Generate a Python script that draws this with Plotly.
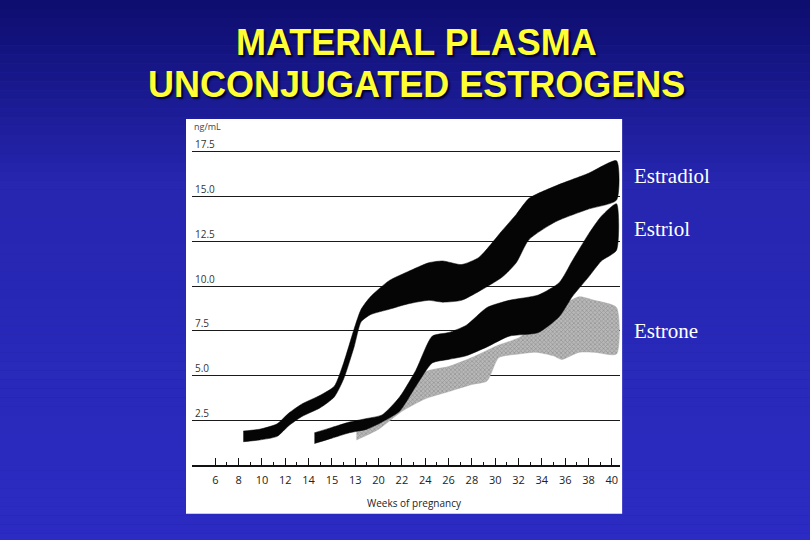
import plotly.graph_objects as go

# values (ng/mL vs weeks of pregnancy)
estradiol_weeks = [8.4, 9.8, 11.3, 12.3, 13.4, 15.0, 16.2, 17.0, 17.9, 18.5, 19.3, 20.9,
                   22.5, 24.3, 25.5, 27.1, 28.6, 30.6, 31.8, 32.9, 35.2, 38.0, 40.4]
estradiol_high = [1.9, 2.0, 2.3, 2.9, 3.4, 3.9, 4.4, 5.7, 7.6, 8.7, 9.4, 10.3,
                  10.8, 11.3, 11.4, 11.2, 11.6, 13.1, 14.0, 14.9, 15.6, 16.3, 17.0]
estradiol_low = [1.3, 1.4, 1.6, 2.2, 2.7, 3.2, 3.8, 4.8, 6.6, 8.0, 8.4, 8.7,
                 9.0, 9.2, 9.1, 9.2, 9.7, 10.5, 11.3, 12.6, 13.6, 14.3, 14.8]

estriol_weeks = [14.5, 16.0, 17.5, 19.0, 20.3, 21.8, 23.2, 24.6, 26.0, 27.5, 29.3, 31.2,
                 33.7, 35.5, 36.6, 38.0, 39.1, 40.4]
estriol_high = [1.8, 2.1, 2.4, 2.6, 2.8, 3.8, 5.3, 7.2, 7.4, 7.8, 8.8, 9.2,
                9.5, 10.2, 11.4, 12.9, 13.9, 14.6]
estriol_low = [1.2, 1.5, 1.8, 2.0, 2.4, 3.0, 4.4, 5.7, 5.9, 6.1, 6.6, 7.2,
               7.4, 8.3, 9.4, 10.5, 11.4, 12.0]

estrone_weeks = [18.1, 20.0, 22.0, 24.0, 26.0, 28.0, 29.3, 30.3, 32.0, 33.5, 35.0, 35.7,
                 37.2, 38.5, 40.4]
estrone_high = [1.9, 2.6, 3.6, 5.2, 5.5, 6.0, 6.4, 6.7, 7.1, 7.8, 8.6, 8.9,
                9.4, 9.2, 8.8]
estrone_low = [1.4, 2.0, 3.0, 3.7, 4.1, 4.5, 4.7, 6.0, 6.2, 6.3, 6.1, 5.9,
               6.3, 6.3, 6.2]

week_ticks = list(range(4, 41, 2))
week_labels = ["", "6", "8", "10", "12", "14", "15", "13", "20", "22", "24", "26",
               "28", "30", "32", "34", "36", "38", "40"]
conc_ticks = [2.5, 5.0, 7.5, 10.0, 12.5, 15.0, 17.5]

hormones = ["Estradiol", "Estriol", "Estrone"]
label_y = [0.858, 0.700, 0.398]


def band(weeks, high, low, name, fill, pattern=None):
    return go.Scatter(
        x=weeks + weeks[::-1],
        y=high + low[::-1],
        fill="toself",
        fillcolor=fill,
        fillpattern=pattern,
        line=dict(color=fill, width=0.5, shape="spline", smoothing=0.6),
        mode="lines",
        name=name,
        hoverinfo="name",
    )


fig = go.Figure()
# gray one goes first so the black bands sit on top of it
fig.add_trace(band(estrone_weeks, estrone_high, estrone_low, "Estrone", "#a8a8a8",
                   dict(shape="x", size=3, solidity=0.4, fgcolor="#6e6e6e", bgcolor="#b8b8b8")))
fig.add_trace(band(estriol_weeks, estriol_high, estriol_low, "Estriol", "#050505"))
fig.add_trace(band(estradiol_weeks, estradiol_high, estradiol_low, "Estradiol", "#050505"))

# blue slide background, faked gradient with thin strips
shapes = []
stops = [(0.0, (14, 14, 112)), (0.33, (38, 38, 176)), (1.0, (44, 44, 196))]
n = 60
for i in range(n):
    t = i / (n - 1)
    for (t0, c0), (t1, c1) in zip(stops[:-1], stops[1:]):
        if t0 <= t <= t1:
            f = (t - t0) / (t1 - t0)
            c = tuple(int(a + (b - a) * f) for a, b in zip(c0, c1))
            break
    shapes.append(dict(type="rect", xref="paper", yref="paper", layer="below",
                       x0=-0.5, x1=1.5, y0=1.38 - (i + 1) * 1.61 / n, y1=1.38 - i * 1.61 / n,
                       fillcolor="rgb(%d,%d,%d)" % c, line=dict(width=0)))
# white scan panel
shapes.append(dict(type="rect", xref="paper", yref="paper", layer="below",
                   x0=-0.014, x1=1.005, y0=-0.145, y1=1.027,
                   fillcolor="white", line=dict(width=0)))

title_font = dict(family="Liberation Sans", size=36, color="#ffff33", weight="bold",
                  shadow="2px 2px 2px #000033")
annotations = [
    dict(text="MATERNAL PLASMA", x=0.525, y=1.255, xref="paper", yref="paper",
         showarrow=False, yanchor="middle", font=title_font),
    dict(text="UNCONJUGATED ESTROGENS", x=0.525, y=1.13, xref="paper", yref="paper",
         showarrow=False, yanchor="middle", font=title_font),
    dict(text="ng/mL", x=0.0, y=1.005, xref="paper", yref="paper", showarrow=False,
         xanchor="left", yanchor="middle", font=dict(family="Open Sans", size=9, color="#444")),
    dict(text="Weeks of pregnancy", x=0.52, y=-0.113, xref="paper", yref="paper",
         showarrow=False, yanchor="middle", font=dict(family="Open Sans", size=10, color="#222")),
]
for name, yy in zip(hormones, label_y):
    annotations.append(dict(text=name, x=1.028, y=yy, xref="paper", yref="paper",
                            showarrow=False, xanchor="left", yanchor="middle",
                            font=dict(family="Liberation Serif", size=21, color="white")))

fig.update_layout(
    width=810, height=540,
    margin=dict(l=192, r=190, t=128, b=75),
    paper_bgcolor="#2424a8",
    plot_bgcolor="white",
    showlegend=False,
    shapes=shapes,
    annotations=annotations,
)
fig.update_xaxes(
    range=[4, 40.7], tickvals=week_ticks, ticktext=week_labels,
    ticks="inside", ticklen=7, tickwidth=1.2, tickcolor="#111",
    minor=dict(ticks="inside", ticklen=3, tick0=5, dtick=2, tickcolor="#111", tickwidth=1.2),
    showline=True, linecolor="#111", linewidth=1.6, showgrid=False, zeroline=False,
    tickfont=dict(family="Open Sans", size=11, color="#222"), ticklabelstandoff=4,
)
fig.update_yaxes(
    range=[0, 18.83], tickvals=conc_ticks, tickformat=".1f",
    ticks="", ticklabelposition="inside top",
    showgrid=True, gridcolor="#1a1a1a", gridwidth=1.4, zeroline=False, showline=False,
    tickfont=dict(family="Open Sans", size=10, color="#333"),
)

# page margin would otherwise push the figure off the window corner
fig.write_html("out.html", config={"displayModeBar": False},
               post_script="document.body.style.margin='0';")
